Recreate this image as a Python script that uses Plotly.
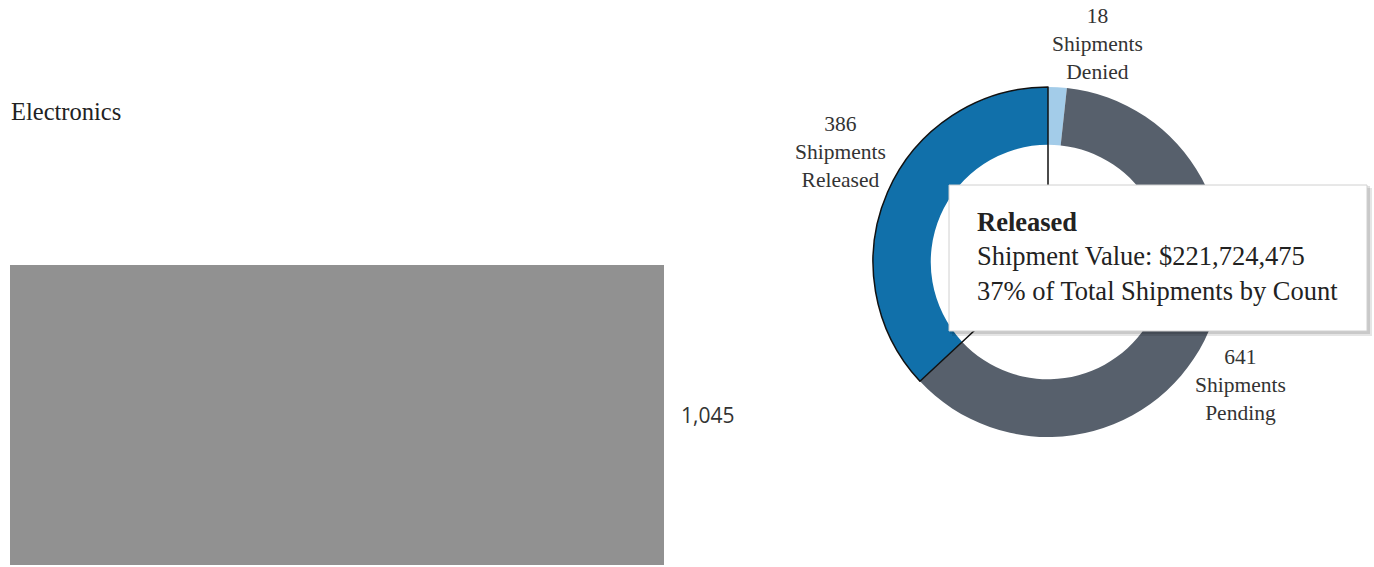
import plotly.graph_objects as go

# ---- data ----
bar_categories = ["Electronics"]
bar_values = [1045]

status_labels = ["Denied", "Pending", "Released"]
status_counts = [18, 641, 386]
status_colors = ["#a3cce9", "#57606c", "#1170aa"]

tooltip_status = "Released"
tooltip_value = 221724475

W, H = 1374, 567

def px_x(x):
    return x / W

def px_y(y):
    return 1 - y / H

fig = go.Figure()

# horizontal bar
fig.add_trace(go.Bar(
    y=bar_categories, x=bar_values, orientation="h",
    marker=dict(color="#919191", line=dict(width=0)),
    hoverinfo="skip", showlegend=False,
))

# donut
cx, cy, r = 1048, 262, 175
dom_x = [px_x(cx - r), px_x(cx + r)]
dom_y = [px_y(cy + r), px_y(cy - r)]
fig.add_trace(go.Pie(
    labels=status_labels, values=status_counts, hole=0.67,
    sort=False, direction="clockwise", rotation=0,
    marker=dict(colors=status_colors, line=dict(width=0)),
    textinfo="none",
    domain=dict(x=dom_x, y=dom_y), showlegend=False, hoverinfo="skip",
))
# outline of the highlighted slice (full wedge)
total = sum(status_counts)
fig.add_trace(go.Pie(
    labels=status_labels, values=status_counts, hole=0,
    sort=False, direction="clockwise", rotation=0,
    marker=dict(colors=["rgba(0,0,0,0)"] * 3,
                line=dict(color="#111111",
                          width=[1.5 if l == tooltip_status else 0 for l in status_labels])),
    textinfo="none", domain=dict(x=dom_x, y=dom_y), showlegend=False, hoverinfo="skip",
))

# tooltip box
bx0, by0, bx1, by1 = 949, 185, 1367, 331
shapes = [
    dict(type="rect", xref="paper", yref="paper",
         x0=px_x(bx0 + 3), x1=px_x(bx1 + 5), y0=px_y(by1 + 5), y1=px_y(by0 + 3),
         fillcolor="rgba(0,0,0,0.10)", line=dict(width=0), layer="above"),
    dict(type="rect", xref="paper", yref="paper",
         x0=px_x(bx0 + 1), x1=px_x(bx1 + 3), y0=px_y(by1 + 3), y1=px_y(by0 + 1),
         fillcolor="rgba(0,0,0,0.12)", line=dict(width=0), layer="above"),
    dict(type="rect", xref="paper", yref="paper",
         x0=px_x(bx0), x1=px_x(bx1), y0=px_y(by1), y1=px_y(by0),
         fillcolor="white", line=dict(color="#d0d0d0", width=1), layer="above"),
]

idx = status_labels.index(tooltip_status)
pct = round(100 * status_counts[idx] / total)
tip = (f"<b>{tooltip_status}</b><br>Shipment Value: ${tooltip_value:,}"
       f"<br>{pct}% of Total Shipments by Count")

# donut label anchor points (window pixels, centre of text block)
label_pos = {"Denied": (1097, 44), "Pending": (1240, 385), "Released": (840, 152)}

annotations = [
    dict(text=bar_categories[0], xref="paper", yref="paper",
         x=px_x(9), y=px_y(111), xanchor="left", yanchor="middle", showarrow=False,
         font=dict(family="Liberation Serif", size=24.5, color="#222222")),
    dict(text=f"{bar_values[0]:,}", xref="x", yref="y",
         x=bar_values[0], y=bar_categories[0], xshift=15, xanchor="left",
         yanchor="middle", showarrow=False,
         font=dict(family="Open Sans", size=21, color="#333333")),
    dict(text=tip, xref="paper", yref="paper", align="left",
         x=px_x(975), y=px_y(257), xanchor="left", yanchor="middle", showarrow=False,
         font=dict(family="Liberation Serif", size=26.5, color="#222222")),
]
for lab, cnt in zip(status_labels, status_counts):
    lx, ly = label_pos[lab]
    annotations.append(dict(
        text=f"{cnt}<br>Shipments<br>{lab}", xref="paper", yref="paper",
        x=px_x(lx), y=px_y(ly), xanchor="center", yanchor="middle", align="center",
        showarrow=False, font=dict(family="Liberation Serif", size=21.5, color="#333333")))

bar_left, bar_right = 10, 664
bar_top, bar_bottom = 265, 565
axis_right = 820
fig.update_layout(
    width=W, height=H, margin=dict(l=0, r=0, t=0, b=0),
    paper_bgcolor="white", plot_bgcolor="white",
    bargap=0,
    xaxis=dict(domain=[px_x(bar_left), px_x(axis_right)],
               range=[0, bar_values[0] * (axis_right - bar_left) / (bar_right - bar_left)],
               visible=False, fixedrange=True),
    yaxis=dict(domain=[px_y(bar_bottom), px_y(bar_top)], range=[-0.5, 0.5],
               visible=False, fixedrange=True),
    shapes=shapes, annotations=annotations,
)

fig.write_html(
    "out.html",
    config={"displayModeBar": False},
    post_script="document.body.style.margin='0';document.body.style.overflow='hidden';",
)
